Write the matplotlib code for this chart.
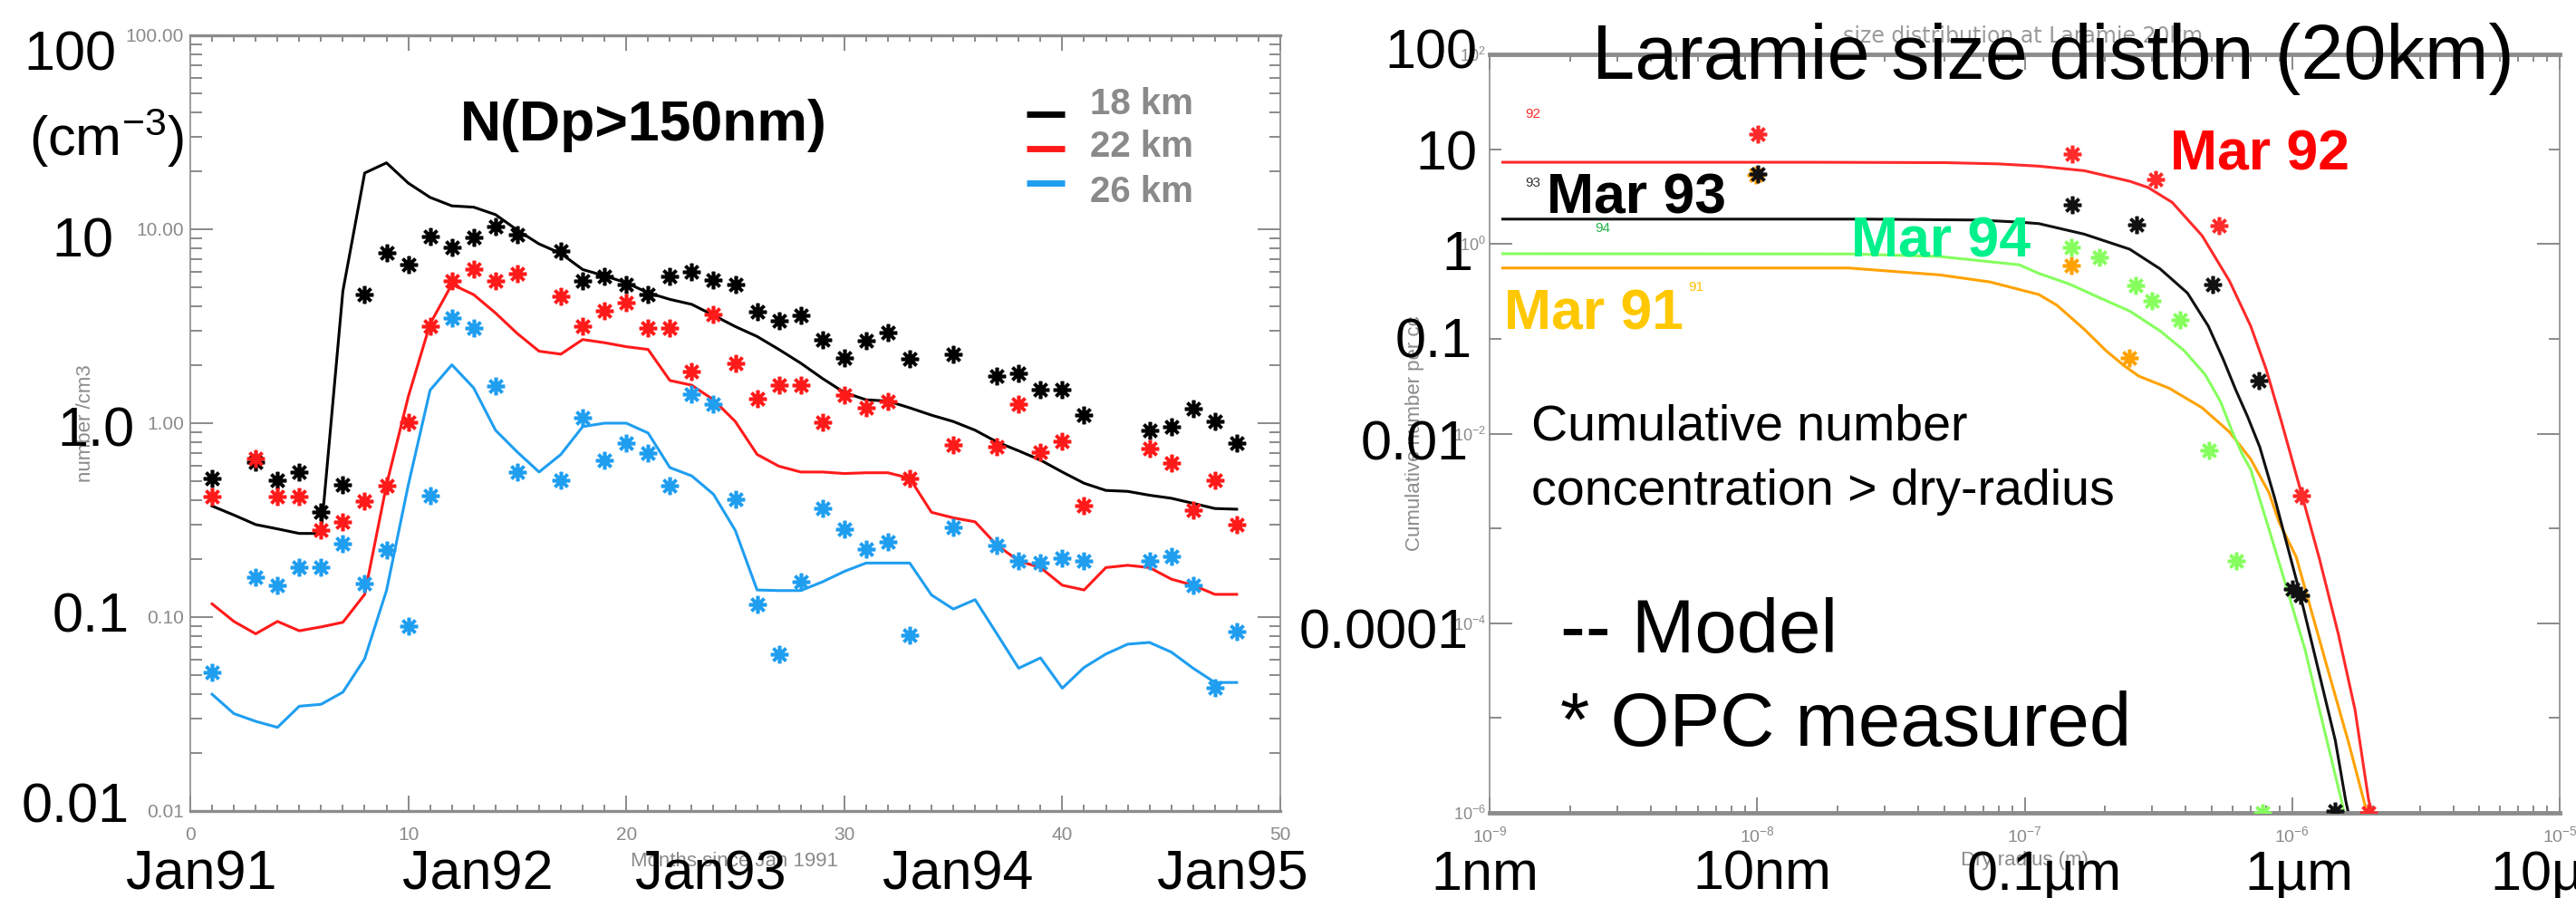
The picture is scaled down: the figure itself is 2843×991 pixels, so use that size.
import numpy as np
import matplotlib
matplotlib.use("Agg")
import matplotlib.pyplot as plt
from matplotlib.lines import Line2D
from matplotlib.ticker import LogLocator, NullFormatter, FixedLocator, MultipleLocator

W, H = 2843, 991
nan = np.nan

# ---- left panel: N(Dp>150nm) at Laramie, months since Jan 1991 ----
months = list(range(1, 49))

model_18km = [0.374, 0.336, 0.30, 0.285, 0.27, 0.27, 4.8, 19.5, 22.0, 17.3,
              14.6, 13.2, 13.0, 11.9, 9.9, 8.4, 7.5, 6.2, 5.75, 5.3,
              4.7, 4.35, 4.1, 3.6, 3.15, 2.8, 2.4, 2.04, 1.7, 1.44,
              1.32, 1.3, 1.2, 1.1, 1.02, 0.92, 0.8, 0.72, 0.645, 0.56,
              0.49, 0.45, 0.445, 0.425, 0.41, 0.386, 0.363, 0.36]
model_22km = [0.117, 0.095, 0.082, 0.095, 0.085, 0.089, 0.094, 0.131, 0.48, 1.37,
              3.25, 5.2, 4.6, 3.7, 2.9, 2.35, 2.27, 2.7, 2.6, 2.48,
              2.4, 1.66, 1.57, 1.32, 1.02, 0.69, 0.6, 0.56, 0.56, 0.55,
              0.555, 0.555, 0.52, 0.347, 0.325, 0.31, 0.235, 0.195, 0.18, 0.146,
              0.138, 0.18, 0.185, 0.18, 0.157, 0.146, 0.131, 0.131]
model_26km = [0.04, 0.0318, 0.029, 0.027, 0.0347, 0.0355, 0.041, 0.061, 0.137, 0.48,
              1.48, 2.0, 1.52, 0.92, 0.71, 0.56, 0.69, 0.96, 1.0, 1.0,
              0.89, 0.59, 0.535, 0.43, 0.28, 0.138, 0.137, 0.137, 0.152, 0.172,
              0.19, 0.19, 0.19, 0.13, 0.11, 0.123, 0.082, 0.0545, 0.0616, 0.043,
              0.055, 0.0645, 0.0725, 0.074, 0.066, 0.0545, 0.046, 0.046]

opc_18km = [0.52, nan, 0.63, 0.51, 0.56, 0.347, 0.48, 4.6, 7.6, 6.6,
            9.2, 8.1, 9.1, 10.3, 9.4, nan, 7.7, 5.4, 5.7, 5.2,
            4.6, 5.7, 6.0, 5.5, 5.2, 3.74, 3.36, 3.6, 2.7, 2.18,
            2.67, 2.92, 2.15, nan, 2.27, nan, 1.75, 1.8, 1.49, 1.49,
            1.1, nan, nan, 0.92, 0.96, 1.19, 1.02, 0.79]
opc_22km = [0.417, nan, 0.656, 0.417, 0.417, 0.28, 0.31, 0.395, 0.474, 1.01,
            3.15, 5.4, 6.2, 5.4, 5.9, nan, 4.5, 3.15, 3.8, 4.17,
            3.08, 3.08, 1.85, 3.62, 2.04, 1.34, 1.57, 1.57, 1.01, 1.4,
            1.2, 1.3, 0.52, nan, 0.77, nan, 0.755, 1.26, 0.71, 0.81,
            0.374, nan, nan, 0.74, 0.62, 0.355, 0.506, 0.30]
opc_26km = [0.052, nan, 0.161, 0.146, 0.181, 0.181, 0.238, 0.149, 0.222, 0.09,
            0.425, 3.5, 3.08, 1.56, 0.56, nan, 0.506, 1.07, 0.646, 0.79,
            0.70, 0.474, 1.41, 1.26, 0.407, 0.116, 0.064, 0.152, 0.363, 0.285,
            0.225, 0.243, 0.0805, nan, 0.29, nan, 0.234, 0.195, 0.191, 0.202,
            0.195, nan, nan, 0.195, 0.206, 0.146, 0.043, 0.084]

alt_labels = ["18 km", "22 km", "26 km"]
alt_colors = ["#000000", "#ff1a1a", "#1f9ef0"]

# ---- right panel: cumulative size distribution at 20 km (radius in nm) ----
mar92_r = [1.12, 15.8, 50.1, 79.4, 113, 167, 247, 289, 356, 461,
           583, 700, 798, 908, 1089, 1265, 1489, 1718, 1932, 1995]
mar92_n = [7.28, 7.28, 7.21, 7.0, 6.62, 5.93, 4.59, 3.95, 2.75, 1.22,
           0.407, 0.136, 0.0484, 0.0139, 2.22e-3, 4.76e-4, 7.62e-5, 1.22e-5, 1.35e-6, 1.0e-6]
mar93_r = [1.12, 25.1, 66.7, 95.5, 113, 167, 247, 321, 406, 486,
           553, 615, 682, 757, 861, 1059, 1239, 1449, 1585, 1622]
mar93_n = [1.83, 1.83, 1.79, 1.70, 1.64, 1.27, 0.881, 0.546, 0.304, 0.136,
           0.0604, 0.029, 0.015, 7.19e-3, 2.07e-3, 2.29e-4, 3.66e-5, 5.83e-6, 1.35e-6, 1.0e-6]
mar94_r = [1.12, 22.9, 48.1, 95.5, 113, 147, 190, 247, 321, 394, 473,
           540, 598, 648, 700, 818, 957, 1117, 1306, 1528, 1563]
mar94_n = [0.789, 0.785, 0.738, 0.603, 0.489, 0.378, 0.272, 0.196, 0.121, 0.0753, 0.0419,
           0.0217, 0.0104, 6.21e-3, 4.17e-3, 9.93e-4, 2.29e-4, 5.27e-5, 8.41e-6, 1.35e-6, 1.0e-6]
mar91_r = [1.12, 22.0, 48.1, 74.1, 113, 132, 167, 201, 235, 267,
           347, 461, 583, 700, 818, 895, 1035, 1343, 1622, 1905]
mar91_n = [0.558, 0.558, 0.472, 0.398, 0.293, 0.226, 0.126, 0.0753, 0.0522, 0.0404,
           0.0301, 0.0187, 0.0104, 5.37e-3, 2.40e-3, 1.15e-3, 5.01e-4, 3.66e-5, 5.62e-6, 1.0e-6]

opc92_r = [10.07, 151, 308, 532, 1081, 1932]
opc92_n = [14.3, 8.87, 4.76, 1.55, 2.22e-3, 1.0e-6]
opc93_r = [10.07, 151, 262, 506, 753, 1000, 1072, 1445]
opc93_n = [5.51, 2.59, 1.58, 0.373, 0.0361, 2.29e-4, 1.97e-4, 1.05e-6]
opc94_r = [150, 190, 259, 299, 380, 490, 618, 776]
opc94_n = [0.912, 0.723, 0.365, 0.249, 0.157, 6.59e-3, 4.59e-4, 1.0e-6]
opc91_r = [9.9, 149, 247]
opc91_n = [5.4, 0.597, 0.0627]

plt.rcParams["font.family"] = ["Liberation Sans", "DejaVu Sans"]
plt.rcParams["mathtext.fontset"] = "custom"
plt.rcParams["mathtext.rm"] = "Liberation Sans"
plt.rcParams["mathtext.it"] = "Liberation Sans:italic"
plt.rcParams["mathtext.bf"] = "Liberation Sans:bold"
plt.rcParams["mathtext.default"] = "regular"

GREY = "#8a8a8a"
STAR = (8, 2, 0)   # IDL psym=2 style asterisk

fig = plt.figure(figsize=(W / 100, H / 100), dpi=100)


def box(l, t, r, b):
    return [l / W, 1 - b / H, (r - l) / W, (b - t) / H]


def put(s, x, y, size, ha="left", va="baseline", **kw):
    kw.setdefault("zorder", 5)
    fig.text(x / W, 1 - y / H, s, fontsize=size, ha=ha, va=va, **kw)


def idl_frame(ax, lw_tb):
    for side, sp in ax.spines.items():
        sp.set_color("#8c8c8c")
        sp.set_linewidth(lw_tb if side in ("top", "bottom") else 1.2)
    ax.tick_params(which="both", direction="in", top=True, right=True,
                   color="#777777", labelcolor=GREY, width=1.2)


# ---------------- left panel ----------------
ax1 = fig.add_axes(box(210, 39, 1413, 895))
ax1.set_yscale("log")
ax1.set_xlim(0, 50)
ax1.set_ylim(0.01, 100)

for line, pts, c in zip([model_18km, model_22km, model_26km],
                        [opc_18km, opc_22km, opc_26km], alt_colors):
    ax1.plot(months, line, color=c, lw=2.2, zorder=2)
    ax1.plot(months, pts, ls="none", marker=STAR, ms=14, mew=2.6, color=c, zorder=3)

idl_frame(ax1, 2.4)
ax1.set_xticks([0, 10, 20, 30, 40, 50], ["0", "10", "20", "30", "40", "50"])
ax1.xaxis.set_minor_locator(MultipleLocator(1))
ax1.set_yticks([0.01, 0.1, 1, 10, 100], ["0.01", "0.10", "1.00", "10.00", "100.00"])
ax1.yaxis.set_minor_locator(LogLocator(base=10, subs=np.arange(2, 10), numticks=20))
ax1.yaxis.set_minor_formatter(NullFormatter())
ax1.tick_params(axis="x", which="major", length=12, labelsize=15, pad=12)
ax1.tick_params(axis="x", which="minor", length=5)
ax1.tick_params(axis="y", which="major", length=18, labelsize=15, pad=5)
ax1.tick_params(axis="y", which="minor", length=9)

put("Months since Jan 1991", 811, 950, 16, ha="center", va="center", color=GREY, zorder=2)
put("number /cm3", 95, 467, 16, ha="center", va="center", color=GREY, rotation=90, zorder=2)

# legend drawn IDL style: short thick bar + grey bold label
for i, (lab, c) in enumerate(zip(alt_labels, alt_colors)):
    yb = [126, 164, 202][i]
    fig.add_artist(Line2D([1133 / W, 1175 / W], [1 - yb / H, 1 - yb / H],
                          color=c, lw=5, solid_capstyle="butt"))
    put(lab, 1203, [126, 173, 223][i], 29, color=GREY, fontweight="bold")

put("N(Dp>150nm)", 508, 155, 45, fontweight="bold")

# big overlay labels
put("100", 128, 77, 44, ha="right")
put("(cm$^{-3}$)", 203, 172, 44, ha="right")
put("10", 125, 283, 44, ha="right")
put("1.0", 148, 492, 44, ha="right")
put("0.1", 143, 697, 44, ha="right")
put("0.01", 143, 908, 44, ha="right")
for lab, xc in zip(["Jan91", "Jan92", "Jan93", "Jan94", "Jan95"], [222, 527, 784, 1057, 1360]):
    put(lab, xc, 982, 44, ha="center")

# ---------------- right panel ----------------
ax2 = fig.add_axes(box(1644, 60, 2825, 897))
ax2.set_xscale("log")
ax2.set_yscale("log")
ax2.set_xlim(1e-9, 1e-5)
ax2.set_ylim(1e-6, 1e2)

curves = [(mar91_r, mar91_n, "#ffa200"), (mar94_r, mar94_n, "#86ff5e"),
          (mar93_r, mar93_n, "#111111"), (mar92_r, mar92_n, "#ff2a2a")]
for r, n, c in curves:
    ax2.plot(np.array(r) * 1e-9, n, color=c, lw=2.2, zorder=2)

opcs = [(opc91_r, opc91_n, "#ffa200"), (opc94_r, opc94_n, "#86ff5e"),
        (opc93_r, opc93_n, "#111111"), (opc92_r, opc92_n, "#ff2a2a")]
for r, n, c in opcs:
    ax2.plot(np.array(r) * 1e-9, n, ls="none", marker=STAR, ms=14, mew=2.6, color=c, zorder=3)

idl_frame(ax2, 3.5)
ax2.set_xticks([1e-9, 1e-8, 1e-7, 1e-6, 1e-5],
               ["$10^{-9}$", "$10^{-8}$", "$10^{-7}$", "$10^{-6}$", "$10^{-5}$"])
ax2.xaxis.set_minor_locator(LogLocator(base=10, subs=np.arange(2, 10), numticks=50))
ax2.xaxis.set_minor_formatter(NullFormatter())
ax2.set_yticks([1e-6, 1e-4, 1e-2, 1e0, 1e2],
               ["$10^{-6}$", "$10^{-4}$", "$10^{-2}$", "$10^{0}$", "$10^{2}$"])
ax2.yaxis.set_minor_locator(FixedLocator([1e-5, 1e-3, 1e-1, 1e1]))
ax2.yaxis.set_minor_formatter(NullFormatter())
ax2.tick_params(axis="x", which="major", length=12, labelsize=14, pad=10)
ax2.tick_params(axis="x", which="minor", length=6)
ax2.tick_params(axis="y", which="major", length=18, labelsize=13, pad=3)
ax2.tick_params(axis="y", which="minor", length=9)

put("size distribution at Laramie 20km", 2233, 40, 17, ha="center", va="center",
    color="#9a9a9a", family="DejaVu Sans", zorder=2)
put("Dry radius (m)", 2234, 950, 16, ha="center", va="center", color=GREY, zorder=2)
put("Cumulative number per cc", 1561, 478, 16, ha="center", va="center",
    color=GREY, rotation=90, zorder=2)

# small IDL year tags
put("92", 1683, 126, 11, va="center", color="#ff2a2a")
put("93", 1683, 202, 11, va="center", color="#333333")
put("94", 1760, 252, 11, va="center", color="#22b14c")
put("91", 1863, 317, 11, va="center", color="#ffc000")

put("Laramie size distbn (20km)", 1757, 87, 61)
put("Mar 92", 2395, 188, 45, color="#ff0000", fontweight="bold")
put("Mar 93", 1707, 235, 45, color="#000000", fontweight="bold")
put("Mar 94", 2043, 283, 45, color="#00f08c", fontweight="bold")
put("Mar 91", 1660, 363, 45, color="#ffc800", fontweight="bold")
put("Cumulative number", 1690, 485, 40)
put("concentration > dry-radius", 1690, 557, 40)
put("-- Model", 1722, 720, 60)
put("* OPC measured", 1722, 823, 60)

put("100", 1630, 75, 44, ha="right")
put("10", 1630, 187, 44, ha="right")
put("1", 1625, 298, 44, ha="right")
put("0.1", 1625, 395, 44, ha="right")
put("0.01", 1621, 507, 44, ha="right")
put("0.0001", 1621, 715, 44, ha="right")
for lab, xc in zip(["1nm", "10nm", "0.1\u00b5m", "1\u00b5m"], [1639, 1945, 2256, 2537]):
    put(lab, xc, 982, 44, ha="center")
put("10\u00b5m", 2748, 982, 44)

fig.savefig("out.png", dpi=100)
